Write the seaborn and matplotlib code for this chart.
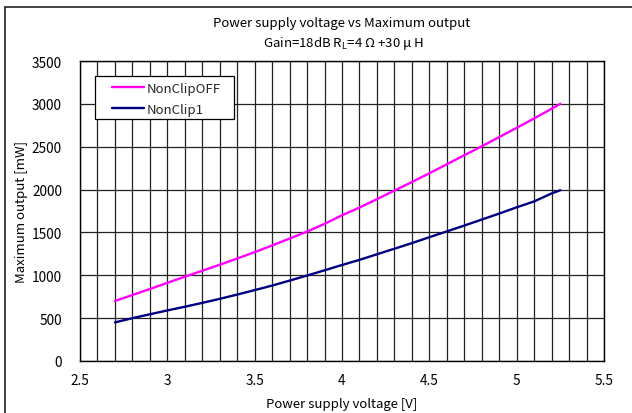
import matplotlib
matplotlib.use("Agg")
import matplotlib.pyplot as plt
import seaborn as sns
import pandas as pd
import numpy as np
from matplotlib.lines import Line2D
from matplotlib.patches import Rectangle
from matplotlib.ticker import MultipleLocator

voltage = [2.7, 2.8, 2.9, 3.0, 3.1, 3.2, 3.3, 3.4, 3.5, 3.6, 3.7, 3.8, 3.9, 4.0,
           4.1, 4.2, 4.3, 4.4, 4.5, 4.6, 4.7, 4.8, 4.9, 5.0, 5.1, 5.2, 5.25]
nonclip_off = [700, 770, 840, 912, 983, 1053, 1123, 1196, 1270, 1348, 1428, 1510,
               1600, 1700, 1790, 1888, 1988, 2088, 2190, 2295, 2400, 2505, 2612,
               2720, 2830, 2943, 3000]
nonclip_1 = [450, 500, 545, 590, 633, 678, 725, 775, 827, 880, 938, 997, 1058,
             1120, 1180, 1245, 1310, 1375, 1444, 1512, 1580, 1650, 1720, 1793,
             1862, 1955, 1992]
series_names = ["NonClipOFF", "NonClip1"]
series_colors = ["#FF00FF", "#000080"]
x_ticks = [2.5, 3, 3.5, 4, 4.5, 5, 5.5]
x_tick_labels = ["2.5", "3", "3.5", "4", "4.5", "5", "5.5"]
y_ticks = [0, 500, 1000, 1500, 2000, 2500, 3000, 3500]

sns.set_theme(style="white")
plt.rcParams['font.family'] = ['Noto Sans CJK JP', 'DejaVu Sans']
plt.rcParams['mathtext.fontset'] = 'custom'
plt.rcParams['mathtext.rm'] = 'Noto Sans CJK JP'

df = pd.DataFrame({
    "voltage": voltage * 2,
    "output": nonclip_off + nonclip_1,
    "series": [series_names[0]] * len(voltage) + [series_names[1]] * len(voltage),
})

W, H = 632, 414
fig = plt.figure(figsize=(W / 100, H / 100), dpi=100)
fig.patch.set_facecolor("white")
ax = fig.add_axes([80 / W, 1 - 362 / H, (604 - 80) / W, (362 - 62) / H])

ax.set_xlim(2.5, 5.5)
ax.set_ylim(0, 3500)
ax.xaxis.set_minor_locator(MultipleLocator(0.1))
ax.set_xticks(x_ticks)
ax.set_xticklabels(x_tick_labels)
ax.set_yticks(y_ticks)
ax.grid(True, which="both", axis="x", color="#222222", linewidth=0.9)
ax.grid(True, which="major", axis="y", color="#222222", linewidth=0.9)
ax.set_axisbelow(True)

sns.lineplot(data=df, x="voltage", y="output", hue="series",
             palette=dict(zip(series_names, series_colors)), linewidth=1.7,
             ax=ax, legend=False, sort=False, estimator=None)

for s in ax.spines.values():
    s.set_color("black")
    s.set_linewidth(1.0)
ax.tick_params(axis="x", which="both", length=0, labelsize=9.8, colors="black", pad=9)
ax.tick_params(axis="y", which="both", length=0, labelsize=9.8, colors="black", pad=13)

ax.set_xlabel("Power supply voltage [V]", fontsize=9.5, color="black", labelpad=7)
ax.set_ylabel("Maximum output [mW]", fontsize=9.5, color="black", labelpad=3)

# legend frame drawn manually (asymmetric padding like the reference)
frame = Rectangle((95 / W, 1 - 120 / H), (234 - 95) / W, (120 - 77) / H,
                  transform=fig.transFigure, facecolor="white", edgecolor="black",
                  linewidth=0.9, zorder=4, clip_on=False)
ax.add_patch(frame)

handles = [Line2D([0], [0], color=c, lw=1.7) for c in series_colors]
leg = ax.legend(handles, series_names, loc="upper left",
                bbox_to_anchor=((112 - 80) / (604 - 80), 1 - (83 - 62) / 300),
                fontsize=9.5, frameon=False, handlelength=2.42, handletextpad=0.23,
                borderpad=0, labelspacing=0.6, borderaxespad=0)
leg.set_zorder(5)

fig.text(342 / W, 1 - 24 / H, "Power supply voltage vs Maximum output",
         ha="center", va="center", fontsize=9.5, color="black")
fig.text(343 / W, 1 - 43 / H, r"Gain=18dB R$_\mathrm{L}$=4 Ω +30 μ H",
         ha="center", va="center", fontsize=9.5, color="black")

# outer frame
fig.add_artist(Line2D([5 / W, 5 / W], [0, 1 - 8 / H], color="#222222", lw=1.2,
                      transform=fig.transFigure))
fig.add_artist(Line2D([5 / W, 1], [1 - 8 / H, 1 - 8 / H], color="#222222", lw=1.2,
                      transform=fig.transFigure))

fig.savefig("out.png", dpi=100)
